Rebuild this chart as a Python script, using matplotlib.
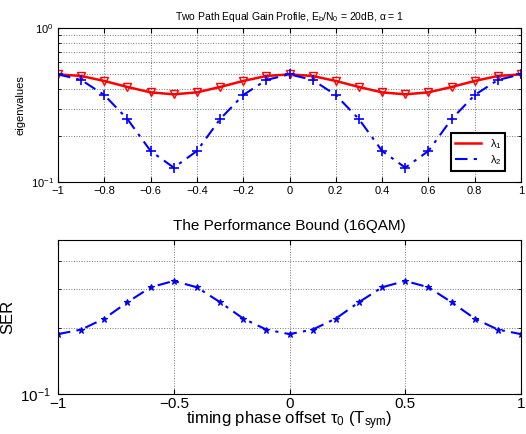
import numpy as np
import matplotlib
matplotlib.use("Agg")
from matplotlib import pyplot as plt
from matplotlib.lines import Line2D
from matplotlib.ticker import LogLocator, NullFormatter, FixedLocator

plt.rcParams['font.family'] = ['Liberation Sans', 'DejaVu Sans']
plt.rcParams['mathtext.fontset'] = 'custom'
plt.rcParams['mathtext.rm'] = 'Liberation Sans'
plt.rcParams['mathtext.it'] = 'Liberation Sans'

# timing offsets
tau = [-1.0, -0.9, -0.8, -0.7, -0.6, -0.5, -0.4, -0.3, -0.2, -0.1, 0.0,
       0.1, 0.2, 0.3, 0.4, 0.5, 0.6, 0.7, 0.8, 0.9, 1.0]

lambda1 = [0.500, 0.488, 0.453, 0.414, 0.382, 0.371, 0.382, 0.414, 0.453, 0.488, 0.500,
           0.488, 0.453, 0.414, 0.382, 0.371, 0.382, 0.414, 0.453, 0.488, 0.500]
lambda2 = [0.500, 0.460, 0.367, 0.256, 0.159, 0.124, 0.159, 0.256, 0.367, 0.460, 0.500,
           0.460, 0.367, 0.256, 0.159, 0.124, 0.159, 0.256, 0.367, 0.460, 0.500]

ser = [0.187, 0.196, 0.220, 0.261, 0.305, 0.326, 0.305, 0.261, 0.220, 0.196, 0.187,
       0.196, 0.220, 0.261, 0.305, 0.326, 0.305, 0.261, 0.220, 0.196, 0.187]

dashdot = (0, (6, 3, 1.5, 3))
gridkw = dict(ls=':', color='#777777', lw=0.7)

fig = plt.figure(figsize=(5.26, 4.34), dpi=100)

# top plot: eigenvalues
ax1 = fig.add_axes([0.1103, 0.5806, 0.8802, 0.3549])
ax1.semilogy(tau, lambda1, '-', color='red', lw=1.8, marker='v', ms=6,
             mfc='none', mec='red', mew=1.0)
ax1.semilogy(tau, lambda2, ls=dashdot, color='blue', lw=1.5, marker='+', ms=7,
             mew=1.2)
ax1.set_xlim(-1, 1)
ax1.set_ylim(0.1, 1)
ax1.set_xticks(np.arange(-1, 1.01, 0.2))
ax1.set_xticklabels(['\u22121', '\u22120.8', '\u22120.6', '\u22120.4', '\u22120.2', '0',
                     '0.2', '0.4', '0.6', '0.8', '1'])
ax1.yaxis.set_major_locator(FixedLocator([0.1, 1]))
ax1.yaxis.set_minor_locator(LogLocator(subs=np.arange(2, 10)))
ax1.yaxis.set_minor_formatter(NullFormatter())
ax1.grid(True, which='both', **gridkw)
ax1.tick_params(which='both', direction='in', top=True, right=True, labelsize=8, pad=3)
ax1.set_ylabel('eigenvalues', fontsize=8)
ax1.set_title(r'Two Path Equal Gain Profile, E$_b$/N$_0$ = 20dB, $\alpha$ = 1', fontsize=7.5, pad=6)
handles = [Line2D([], [], color='red', lw=1.8),
           Line2D([], [], color='blue', lw=1.5, ls=dashdot)]
leg = ax1.legend(handles, [r'$\lambda_1$', r'$\lambda_2$'], loc='lower right', fontsize=8,
                 fancybox=False, framealpha=1, edgecolor='black', borderpad=0.35,
                 handlelength=2.3, labelspacing=0.25, bbox_to_anchor=(0.978, 0.035))
leg.get_frame().set_linewidth(1.5)

# bottom plot: SER
ax2 = fig.add_axes([0.1103, 0.0922, 0.8802, 0.3548])
ax2.semilogy(tau, ser, ls=dashdot, color='blue', lw=1.5, marker='*', ms=5, mew=0.8)
ax2.set_xlim(-1, 1)
ax2.set_ylim(0.1, 0.5)
ax2.set_xticks([-1, -0.5, 0, 0.5, 1])
ax2.set_xticklabels(['\u22121', '\u22120.5', '0', '0.5', '1'])
ax2.yaxis.set_major_locator(FixedLocator([0.1]))
ax2.yaxis.set_minor_locator(FixedLocator([0.2, 0.3, 0.4, 0.5]))
ax2.yaxis.set_minor_formatter(NullFormatter())
ax2.grid(True, which='both', **gridkw)
ax2.tick_params(which='both', direction='in', top=True, right=True, labelsize=11, pad=2)
ax2.tick_params(axis='y', pad=5)
ax2.set_ylabel('SER', fontsize=12)
ax2.set_xlabel(r'timing phase offset $\tau_0$ (T$_{sym}$)', fontsize=12, labelpad=-1)
ax2.set_title('The Performance Bound (16QAM)', fontsize=11, pad=7)

fig.savefig('out.png', dpi=100)
